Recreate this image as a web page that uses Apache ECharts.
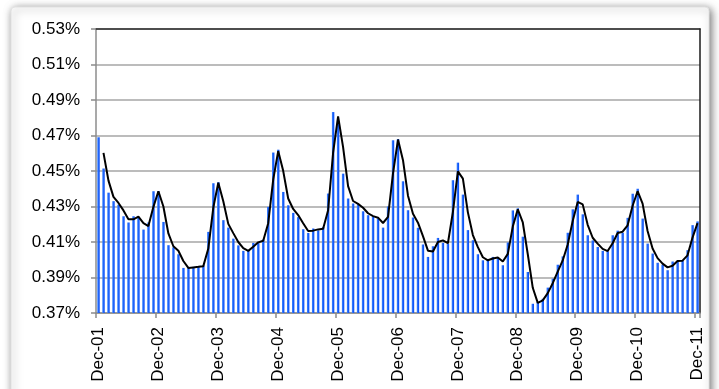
<!DOCTYPE html>
<html>
<head>
<meta charset="utf-8">
<script src="https://cdn.jsdelivr.net/npm/echarts@6/dist/echarts.min.js"></script>
<style>
  html, body { margin: 0; padding: 0; background: #ffffff; }
  #chart { width: 719px; height: 389px; }
</style>
</head>
<body>
<div id="chart"></div>
<script>
// Month labels: December 2001 through December 2011
const monthNames = ['Jan', 'Feb', 'Mar', 'Apr', 'May', 'Jun', 'Jul', 'Aug', 'Sep', 'Oct', 'Nov', 'Dec'];
const startYear = 2001;
const startMonth = 11; // December
const monthCount = 121;
const categories = [];
for (let i = 0; i < monthCount; i++) {
  const m = (startMonth + i) % 12;
  const y = startYear + Math.floor((startMonth + i) / 12);
  categories.push(monthNames[m] + '-' + String(y % 100).padStart(2, '0'));
}

// Y axis range (percent)
const yMin = 0.37;
const yMax = 0.53;
const yStep = 0.02;

// Monthly rate, percent
const monthlyRate = [
  0.4690, 0.4514, 0.4378, 0.4330, 0.4310, 0.4245, 0.4210, 0.4245, 0.4241, 0.4170, 0.4210, 0.4386,
  0.4386, 0.4213, 0.4082, 0.4070, 0.4031, 0.3954, 0.3954, 0.3960, 0.3960, 0.3968, 0.4157, 0.4431,
  0.4437, 0.4223, 0.4181, 0.4119, 0.4081, 0.4050, 0.4050, 0.4095, 0.4100, 0.4114, 0.4298, 0.4604,
  0.4620, 0.4382, 0.4307, 0.4264, 0.4240, 0.4172, 0.4151, 0.4176, 0.4165, 0.4185, 0.4373, 0.4832,
  0.4784, 0.4485, 0.4345, 0.4317, 0.4313, 0.4273, 0.4251, 0.4241, 0.4232, 0.4181, 0.4300, 0.4673,
  0.4680, 0.4442, 0.4279, 0.4238, 0.4180, 0.4086, 0.4016, 0.4076, 0.4123, 0.4095, 0.4091, 0.4448,
  0.4547, 0.4367, 0.4167, 0.4110, 0.4031, 0.3997, 0.3997, 0.4016, 0.4010, 0.3969, 0.4097, 0.4278,
  0.4290, 0.4130, 0.3931, 0.3752, 0.3762, 0.3780, 0.3843, 0.3893, 0.3972, 0.4019, 0.4152, 0.4284,
  0.4367, 0.4256, 0.4138, 0.4109, 0.4072, 0.4050, 0.4048, 0.4138, 0.4164, 0.4152, 0.4236, 0.4372,
  0.4400, 0.4232, 0.4091, 0.4035, 0.3983, 0.3972, 0.3941, 0.3990, 0.3995, 0.3995, 0.4054, 0.4195,
  0.4216
];

// Two-month moving average, percent (starts with the second month)
const movingAverage = [
  null,   0.4602, 0.4446, 0.4354, 0.4320, 0.4278, 0.4228, 0.4228, 0.4243, 0.4206, 0.4190, 0.4298,
  0.4386, 0.4300, 0.4148, 0.4076, 0.4051, 0.3993, 0.3954, 0.3957, 0.3960, 0.3964, 0.4063, 0.4294,
  0.4434, 0.4330, 0.4202, 0.4150, 0.4100, 0.4066, 0.4050, 0.4073, 0.4098, 0.4107, 0.4206, 0.4451,
  0.4612, 0.4501, 0.4345, 0.4286, 0.4252, 0.4206, 0.4162, 0.4164, 0.4171, 0.4175, 0.4279, 0.4603,
  0.4808, 0.4635, 0.4415, 0.4331, 0.4315, 0.4293, 0.4262, 0.4246, 0.4237, 0.4207, 0.4241, 0.4487,
  0.4677, 0.4561, 0.4361, 0.4259, 0.4209, 0.4133, 0.4051, 0.4046, 0.4100, 0.4109, 0.4093, 0.4270,
  0.4498, 0.4457, 0.4267, 0.4139, 0.4071, 0.4014, 0.3997, 0.4007, 0.4013, 0.3990, 0.4033, 0.4188,
  0.4284, 0.4210, 0.4031, 0.3842, 0.3757, 0.3771, 0.3812, 0.3868, 0.3933, 0.3996, 0.4086, 0.4218,
  0.4326, 0.4312, 0.4197, 0.4124, 0.4091, 0.4061, 0.4049, 0.4093, 0.4151, 0.4158, 0.4194, 0.4304,
  0.4386, 0.4316, 0.4162, 0.4063, 0.4009, 0.3978, 0.3957, 0.3966, 0.3993, 0.3995, 0.4025, 0.4125,
  0.4206
];

const textFont = 'Arial, "Liberation Sans", sans-serif';

const chart = echarts.init(document.getElementById('chart'), null, { renderer: 'canvas' });

chart.setOption({
  animation: false,
  backgroundColor: '#ffffff',
  graphic: {
    elements: [{
      type: 'rect',
      z: -10,
      silent: true,
      shape: { x: 11, y: 7, width: 698, height: 392, r: 4 },
      style: {
        fill: '#ffffff',
        stroke: '#e2e2e2',
        lineWidth: 1,
        shadowBlur: 8,
        shadowOffsetX: 2,
        shadowOffsetY: 2,
        shadowColor: 'rgba(0,0,0,0.55)'
      }
    }]
  },
  grid: {
    left: 96,
    right: 19,
    top: 29,
    bottom: 76
  },
  xAxis: [{
    type: 'category',
    data: categories,
    boundaryGap: true,
    axisLine: { show: true, lineStyle: { color: '#8c8c8c', width: 1.5 } },
    axisTick: { show: true, interval: 11, length: 5, lineStyle: { color: '#8c8c8c', width: 1.5 } },
    axisLabel: {
      interval: 11,
      rotate: 90,
      margin: 14,
      color: '#000000',
      fontSize: 17,
      fontFamily: textFont
    },
    splitLine: { show: false }
  }, {
    type: 'category',
    position: 'top',
    data: categories,
    axisLine: { show: true, lineStyle: { color: '#2a2a2a', width: 1.5 } },
    axisTick: { show: false },
    axisLabel: { show: false },
    splitLine: { show: false }
  }],
  yAxis: [{
    type: 'value',
    min: yMin,
    max: yMax,
    interval: yStep,
    axisLine: { show: true, lineStyle: { color: '#8c8c8c', width: 1.5 } },
    axisTick: { show: true, length: 5, lineStyle: { color: '#8c8c8c', width: 1.5 } },
    axisLabel: {
      margin: 16,
      color: '#000000',
      fontSize: 17,
      fontFamily: textFont,
      formatter: function (v) { return v.toFixed(2) + '%'; }
    },
    splitLine: { show: true, lineStyle: { color: '#a6a6a6', width: 1.5 } }
  }, {
    type: 'value',
    position: 'right',
    min: yMin,
    max: yMax,
    interval: yStep,
    axisLine: { show: true, lineStyle: { color: '#1a1a1a', width: 1.5 } },
    axisTick: { show: false },
    axisLabel: { show: false },
    splitLine: { show: false }
  }],
  series: [{
    type: 'bar',
    name: 'Monthly rate',
    xAxisIndex: 0,
    yAxisIndex: 0,
    data: monthlyRate,
    barWidth: 2.4,
    itemStyle: {
      color: new echarts.graphic.LinearGradient(0, 0, 1, 0, [
        { offset: 0, color: '#3f86ff' },
        { offset: 1, color: '#0044f5' }
      ])
    },
    z: 2
  }, {
    type: 'line',
    name: '2 per. Mov. Avg.',
    xAxisIndex: 0,
    yAxisIndex: 0,
    data: movingAverage,
    showSymbol: false,
    symbol: 'none',
    connectNulls: false,
    lineStyle: { color: '#000000', width: 2 },
    z: 3
  }]
});
</script>
</body>
</html>
